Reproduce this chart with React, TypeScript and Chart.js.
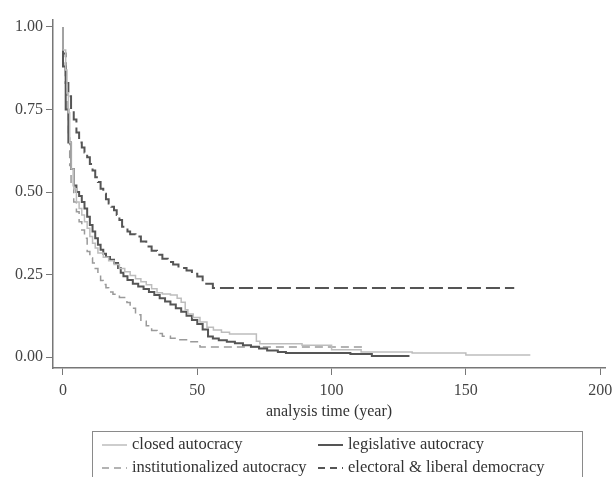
import React, { useEffect, useRef } from "react";
import { Chart, registerables } from "chart.js";
Chart.register(...registerables);

const seriesLabels = [
  "closed autocracy",
  "legislative autocracy",
  "institutionalized autocracy",
  "electoral & liberal democracy",
];

const closedX = [0, 1, 1.5, 2, 2.5, 3, 4, 5, 6, 7, 8, 9, 10, 11, 12, 13, 15, 17, 19, 21, 23, 25, 27, 29, 31, 33, 35, 37, 40, 42.5, 44, 45.5, 46.5, 48.5, 51, 53.6, 56, 59, 62, 72, 73.3, 89, 100, 111, 130, 150, 170, 174];
const closedY = [1.0, 0.93, 0.87, 0.8, 0.74, 0.65, 0.57, 0.51, 0.47, 0.45, 0.43, 0.41, 0.39, 0.365, 0.345, 0.33, 0.315, 0.302, 0.292, 0.28, 0.268, 0.258, 0.247, 0.237, 0.228, 0.219, 0.207, 0.195, 0.191, 0.188, 0.178, 0.166, 0.143, 0.13, 0.12, 0.106, 0.09, 0.082, 0.075, 0.07, 0.048, 0.04, 0.036, 0.022, 0.015, 0.012, 0.006, 0.006];

const legislativeX = [0, 1, 2, 3, 4, 5, 6, 7, 8, 9, 10, 11, 12, 13, 14, 15, 16, 17.5, 19, 20.5, 21.5, 22.5, 24, 26, 28, 30, 32, 34, 36, 38, 40, 42, 44, 46, 48, 50, 52, 54, 55.8, 58, 61, 64, 67, 70, 73, 76, 80, 83, 89, 107, 115, 128, 129];
const legislativeY = [1.0, 0.88, 0.75, 0.65, 0.57, 0.52, 0.5, 0.488, 0.47, 0.45, 0.425, 0.4, 0.38, 0.36, 0.34, 0.325, 0.313, 0.303, 0.295, 0.285, 0.27, 0.255, 0.245, 0.233, 0.222, 0.214, 0.206, 0.197, 0.188, 0.178, 0.168, 0.159, 0.148, 0.137, 0.125, 0.112, 0.1, 0.083, 0.062, 0.056, 0.051, 0.046, 0.042, 0.036, 0.031, 0.026, 0.02, 0.015, 0.012, 0.012, 0.009, 0.003, 0.003];

const institutionalX = [0, 1, 1.5, 2, 2.5, 3, 4, 5, 6, 7, 8, 9, 10, 11, 12, 13, 14, 15, 16, 17, 18.6, 21, 23.8, 25, 27, 29, 31, 33, 35, 37, 40, 42.5, 46, 51, 72, 112];
const institutionalY = [1.0, 0.9, 0.82, 0.74, 0.67, 0.58, 0.52, 0.47, 0.44, 0.41, 0.385, 0.36, 0.32, 0.3, 0.285, 0.268, 0.25, 0.232, 0.22, 0.21, 0.197, 0.19, 0.18, 0.165, 0.148, 0.128, 0.108, 0.095, 0.08, 0.071, 0.063, 0.057, 0.052, 0.046, 0.03, 0.03];

const electoralX = [0, 1, 2, 3, 4, 5, 6, 7, 8, 9, 10, 11, 12, 13, 14, 15, 16, 17, 18, 19, 20, 21, 22, 24, 25, 27, 29, 31, 33, 35, 37, 39, 41, 43, 46, 48, 50, 52, 55.8, 65, 168];
const electoralY = [1.0, 0.92, 0.83, 0.79, 0.75, 0.72, 0.68, 0.65, 0.635, 0.62, 0.605, 0.585, 0.565, 0.545, 0.53, 0.51, 0.495, 0.478, 0.465, 0.455, 0.445, 0.43, 0.415, 0.395, 0.38, 0.372, 0.365, 0.35, 0.335, 0.322, 0.31, 0.298, 0.288, 0.28, 0.27, 0.262, 0.252, 0.244, 0.222, 0.209, 0.209];

const xTicks = [0, 50, 100, 150, 200];
const yTicks = [0, 0.25, 0.5, 0.75, 1.0];
const xTitle = "analysis time (year)";

const FONT = '"Liberation Serif", "DejaVu Serif", serif';

export default function App() {
  const ref = useRef<HTMLCanvasElement>(null);

  useEffect(() => {
    const pts = (xs: number[], ys: number[]) => xs.map((x, i) => ({ x, y: ys[i] }));

    const legendPlugin = {
      id: "boxLegend",
      afterDraw(chart: any) {
        const ctx = chart.ctx;
        ctx.save();
        ctx.strokeStyle = "#8a8a8a";
        ctx.lineWidth = 1;
        ctx.strokeRect(92.5, 431.5, 490, 60);
        const rows = [445, 468];
        const lineX = [102, 318];
        const textX = [132, 348];
        chart.data.datasets.forEach((ds: any, i: number) => {
          const col = i % 2;
          const row = Math.floor(i / 2);
          const y = rows[row];
          ctx.beginPath();
          ctx.strokeStyle = ds.borderColor;
          ctx.lineWidth = ds.borderWidth;
          ctx.setLineDash(ds.borderDash && ds.borderDash.length ? [7, 5] : []);
          ctx.moveTo(lineX[col], y);
          ctx.lineTo(lineX[col] + 25, y);
          ctx.stroke();
          ctx.setLineDash([]);
          ctx.fillStyle = "#333";
          ctx.font = `16.5px ${FONT}`;
          ctx.textBaseline = "middle";
          ctx.textAlign = "left";
          ctx.fillText(seriesLabels[i], textX[col], y);
        });
        ctx.restore();
      },
    };

    const chart = new Chart(ref.current as HTMLCanvasElement, {
      type: "line",
      data: {
        datasets: [
          {
            label: seriesLabels[0],
            data: pts(closedX, closedY),
            borderColor: "#bdbdbd",
            borderWidth: 1.5,
            stepped: "after",
            borderDash: [],
          },
          {
            label: seriesLabels[1],
            data: pts(legislativeX, legislativeY),
            borderColor: "#555555",
            borderWidth: 2,
            stepped: "after",
            borderDash: [],
          },
          {
            label: seriesLabels[2],
            data: pts(institutionalX, institutionalY),
            borderColor: "#9a9a9a",
            borderWidth: 1.5,
            stepped: "after",
            borderDash: [8, 5],
          },
          {
            label: seriesLabels[3],
            data: pts(electoralX, electoralY),
            borderColor: "#555555",
            borderWidth: 2,
            stepped: "after",
            borderDash: [14, 5],
          },
        ],
      },
      options: {
        animation: false,
        responsive: false,
        maintainAspectRatio: false,
        layout: { padding: { top: 20, right: 7, left: 0, bottom: 56 } },
        plugins: { legend: { display: false }, tooltip: { enabled: false } },
        elements: { point: { radius: 0 }, line: { tension: 0 } },
        scales: {
          x: {
            type: "linear",
            min: -3.723,
            max: 201.8,
            afterBuildTicks: (s: any) => {
              s.ticks = xTicks.map((v) => ({ value: v }));
            },
            afterFit: (s: any) => {
              s.height = 53;
              s.paddingLeft = 0;
              s.paddingRight = 0;
            },
            grid: { drawOnChartArea: false, drawTicks: true, tickLength: 7, color: "#777", lineWidth: 1 },
            border: { display: true, color: "#777", width: 1.5 },
            ticks: {
              padding: 6,
              color: "#444",
              font: { family: FONT, size: 16 },
              maxRotation: 0,
              callback: (v: any) => String(v),
            },
            title: {
              display: true,
              text: xTitle,
              color: "#333",
              font: { family: FONT, size: 16 },
              padding: { top: 0, bottom: 0 },
            },
          },
          y: {
            min: -0.0333,
            max: 1.0212,
            afterBuildTicks: (s: any) => {
              s.ticks = yTicks.map((v) => ({ value: v }));
            },
            afterFit: (s: any) => {
              s.width = 53;
              s.paddingTop = 0;
              s.paddingBottom = 0;
            },
            grid: { drawOnChartArea: false, drawTicks: true, tickLength: 7, color: "#777", lineWidth: 1 },
            border: { display: true, color: "#777", width: 1.5 },
            ticks: {
              padding: 3,
              color: "#444",
              font: { family: FONT, size: 16 },
              callback: (v: any) => Number(v).toFixed(2),
            },
          },
        },
      },
      plugins: [legendPlugin],
    });
    return () => chart.destroy();
  }, []);

  return (
    <div style={{ position: "absolute", left: 0, top: 0, width: 612, height: 477, background: "#fff" }}>
      <canvas ref={ref} width={612} height={477} style={{ width: 612, height: 477, display: "block" }} />
    </div>
  );
}
